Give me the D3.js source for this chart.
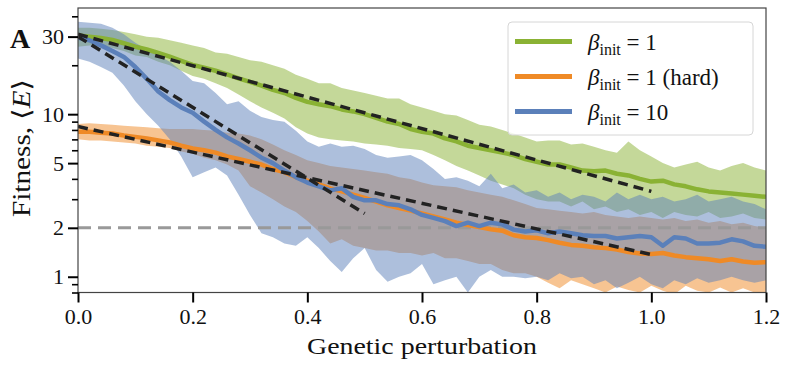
<!DOCTYPE html>
<html>
<head>
<meta charset="utf-8">
<script src="https://cdn.jsdelivr.net/npm/d3@7"></script>
<style>
  html, body { margin: 0; padding: 0; background: #fff; }
  svg text { font-family: "Liberation Serif", "DejaVu Serif", serif; fill: #111; }
</style>
</head>
<body>
<svg id="chart" width="789" height="368"></svg>
<script>
// x grid of the simulations (genetic perturbation, step 0.02)
const xStep = 0.02;
const xGrid = d3.range(61).map(i => +(i * xStep).toFixed(2));

// beta_init = 1
const greenMean = [30.5, 30.0, 29.4, 28.6, 27.3, 26.0, 25.0, 23.8, 22.6, 21.3,
  20.1, 19.3, 18.5, 17.6, 16.6, 15.8, 15.0, 14.1, 13.5, 12.6,
  11.9, 11.5, 11.2, 10.7, 10.4, 10.0, 9.5, 9.0, 8.7, 8.1,
  7.8, 7.6, 7.1, 6.8, 6.4, 6.2, 6.0, 5.8, 5.6, 5.3,
  5.1, 4.9, 4.9, 4.7, 4.5, 4.45, 4.5, 4.3, 4.2, 4.0,
  3.85, 3.9, 3.7, 3.6, 3.45, 3.35, 3.3, 3.25, 3.2, 3.15, 3.1];
const greenHi = [34, 34, 33.5, 33, 32, 31, 30, 29.5, 28.5, 27.5,
  26.5, 25.5, 24, 23.5, 22.5, 21.5, 21, 20, 19, 17.5,
  16.5, 15.5, 15.5, 14.5, 14, 13.5, 13, 12.5, 12.5, 11.5,
  11, 10.5, 10, 9.8, 9.2, 8.6, 8.4, 8.0, 7.6, 7.2,
  6.8, 6.9, 6.9, 6.5, 6.6, 6.3, 6.0, 5.8, 6.8, 6.0,
  5.5, 5.0, 4.7, 4.9, 5.1, 4.7, 4.5, 4.8, 5.0, 4.7, 4.5];
const greenLo = [26, 26.5, 26, 25.5, 24.5, 23, 22.5, 21, 20, 18.5,
  17.2, 16.5, 15.5, 14.5, 13.2, 12.0, 11.0, 10.2, 9.4, 8.3,
  7.6, 7.2, 7.0, 6.9, 6.8, 6.6, 6.5, 6.4, 6.2, 6.1,
  6.0, 5.6, 5.2, 4.8, 4.5, 4.2, 3.9, 3.7, 3.5, 3.2,
  3.0, 2.9, 2.9, 2.7, 2.9, 2.6, 2.7, 2.5, 2.6, 2.4,
  2.5, 2.3, 2.5, 2.4, 2.35, 2.5, 2.3, 2.35, 2.45, 2.3, 2.25];

// beta_init = 1 (hard)
const orangeMean = [7.8, 7.8, 7.7, 7.6, 7.4, 7.25, 7.1, 6.9, 6.7, 6.4,
  6.15, 6.0, 5.8, 5.5, 5.3, 5.1, 4.9, 4.6, 4.4, 4.1,
  3.9, 3.7, 3.5, 3.35, 3.2, 3.05, 2.9, 2.75, 2.65, 2.55,
  2.45, 2.35, 2.25, 2.15, 2.08, 2.02, 1.96, 1.92, 1.8, 1.75,
  1.73, 1.68, 1.62, 1.57, 1.55, 1.52, 1.5, 1.47, 1.42, 1.39,
  1.38, 1.4, 1.35, 1.32, 1.3, 1.28, 1.25, 1.28, 1.24, 1.22, 1.23];
const orangeHi = [8.7, 8.8, 8.7, 8.6, 8.5, 8.4, 8.3, 8.2, 8.1, 8.1,
  8.1, 8.0, 7.9, 7.7, 7.6, 7.4, 7.0, 6.5, 6.0, 5.6,
  5.2, 5.0, 4.8, 4.7, 4.6, 4.5, 4.4, 4.3, 4.1, 4.0,
  3.8, 3.65, 3.6, 3.55, 3.4, 3.3, 3.2, 3.1, 2.95, 2.8,
  2.65, 2.6, 2.55, 2.5, 2.45, 2.5, 2.4, 2.35, 2.3, 2.35,
  2.3, 2.25, 2.3, 2.2, 2.25, 2.15, 2.2, 2.1, 2.15, 2.05, 2.0];
const orangeLo = [7.0, 6.9, 6.9, 6.8, 6.7, 6.6, 6.4, 6.3, 6.2, 5.9,
  5.7, 5.4, 5.2, 4.9, 4.5, 3.6, 3.3, 3.0, 2.7, 2.5,
  2.2, 1.9, 1.6, 1.7, 1.55, 1.5, 1.45, 1.45, 1.4, 1.4,
  1.35, 1.4, 1.3, 1.3, 1.25, 1.2, 1.2, 1.1, 1.05, 1.05,
  1.0, 0.92, 0.85, 0.95, 0.9, 0.85, 0.8, 0.87, 0.83, 0.8,
  0.88, 0.82, 0.78, 0.88, 0.82, 0.8, 0.86, 0.8, 0.85, 0.8, 0.78];

// beta_init = 10
const blueMean = [29.5, 28.5, 26.5, 24.5, 22.5, 19.5, 16.5, 13.8, 12.2, 11.0,
  10.2, 9.0, 8.0, 7.2, 6.6, 6.0, 5.4, 5.0, 4.5, 4.1,
  3.8, 3.6, 3.4, 3.5, 3.1, 2.95, 2.95, 2.8, 2.75, 2.6,
  2.4, 2.3, 2.2, 2.05, 2.15, 2.05, 2.15, 2.1, 1.95, 1.9,
  1.93, 1.85, 1.9, 1.85, 1.8, 1.78, 1.78, 1.72, 1.75, 1.78,
  1.75, 1.55, 1.75, 1.72, 1.6, 1.6, 1.62, 1.7, 1.65, 1.55, 1.53];
const blueHi = [37, 36.5, 36, 34, 31, 27.5, 25, 23, 21, 18.5,
  16, 15.5, 13.5, 11.5, 12.0, 10.5, 9.6, 9.2, 9.0, 7.9,
  6.8, 6.3, 6.6, 6.3, 6.4, 6.1, 5.6, 5.4, 5.5, 5.6,
  5.2, 4.6, 4.0, 4.1, 3.9, 3.6, 4.3, 3.5, 3.7, 3.3,
  3.4, 3.1, 3.3, 3.0, 3.2, 3.1, 2.9, 3.3, 3.0, 3.2,
  3.0, 3.1, 2.9, 3.0, 3.2, 2.9, 3.0, 3.1, 2.9, 2.8, 2.6];
const blueLo = [22, 21, 19.5, 18, 15, 12, 10, 8.5, 7, 5.5,
  4.1, 4.4, 4.7, 4.2, 3.2, 2.4, 1.85, 1.75, 1.6, 1.55,
  1.75, 1.5, 1.25, 1.07, 1.3, 1.5, 1.1, 0.93, 1.0, 1.05,
  1.2, 0.9, 0.95, 1.0, 0.8, 1.0, 1.1, 1.0, 1.0, 0.98,
  1.0, 0.95, 1.05, 0.98, 1.0, 0.9, 0.95, 0.85, 0.92, 1.0,
  0.9, 0.85, 0.95, 0.9, 0.98, 0.92, 0.95, 1.0, 0.95, 0.92, 0.95];

// exponential fits (end points, straight on the log axis)
const fitGreenX = [0, 1.0], fitGreenY = [31, 3.35];
const fitBlueX = [0, 0.5], fitBlueY = [30, 2.45];
const fitOrangeX = [0, 1.0], fitOrangeY = [8.4, 1.37];
const refLevel = 2;

const xTicks = [0, 0.2, 0.4, 0.6, 0.8, 1.0, 1.2];
const yMajor = [1, 2, 5, 10, 30];
const yMinor = [0.8, 0.9, 3, 4, 6, 7, 8, 9, 20, 40];

const series = [
  { name: "1", extra: "", color: "#8ab234", mean: greenMean, lo: greenLo, hi: greenHi },
  { name: "1", extra: " (hard)", color: "#ef8a26", mean: orangeMean, lo: orangeLo, hi: orangeHi },
  { name: "10", extra: "", color: "#5b80ba", mean: blueMean, lo: blueLo, hi: blueHi }
];

const svg = d3.select("#chart");
const pLeft = 78, pRight = 766, pTop = 8, pBottom = 292.5;

const x = d3.scaleLinear().domain([0, 1.2]).range([pLeft, pRight]);
const y = d3.scaleLog().domain([0.8, 45]).range([pBottom, pTop]);

svg.append("defs").append("clipPath").attr("id", "plotClip")
  .append("rect").attr("x", pLeft).attr("y", pTop)
  .attr("width", pRight - pLeft).attr("height", pBottom - pTop);

const plot = svg.append("g").attr("clip-path", "url(#plotClip)");

// bands
const area = d3.area()
  .x((d, i) => x(xGrid[i]))
  .y0(d => y(d[0]))
  .y1(d => y(d[1]));
series.forEach(s => {
  plot.append("path")
    .datum(s.lo.map((v, i) => [v, s.hi[i]]))
    .attr("d", area)
    .attr("fill", s.color)
    .attr("fill-opacity", 0.5);
});

// reference level
plot.append("line")
  .attr("x1", x(0)).attr("x2", x(1.2))
  .attr("y1", y(refLevel)).attr("y2", y(refLevel))
  .attr("stroke", "#999").attr("stroke-width", 3)
  .attr("stroke-dasharray", "13,7");

// mean lines
const line = d3.line().x((d, i) => x(xGrid[i])).y(d => y(d));
series.forEach(s => {
  plot.append("path")
    .datum(s.mean)
    .attr("d", line)
    .attr("fill", "none")
    .attr("stroke", s.color)
    .attr("stroke-width", 4.5)
    .attr("stroke-linejoin", "round");
});

// fits
[[fitGreenX, fitGreenY], [fitBlueX, fitBlueY], [fitOrangeX, fitOrangeY]].forEach(([fx, fy]) => {
  plot.append("line")
    .attr("x1", x(fx[0])).attr("y1", y(fy[0]))
    .attr("x2", x(fx[1])).attr("y2", y(fy[1]))
    .attr("stroke", "#222").attr("stroke-width", 3.5)
    .attr("stroke-dasharray", "10,6");
});

// frame
svg.append("rect")
  .attr("x", pLeft).attr("y", pTop)
  .attr("width", pRight - pLeft).attr("height", pBottom - pTop)
  .attr("fill", "none").attr("stroke", "#444").attr("stroke-width", 1.2);

// x axis
const xAxis = svg.append("g")
  .attr("transform", `translate(0,${pBottom})`)
  .call(d3.axisBottom(x).tickValues(xTicks).tickFormat(d3.format(".1f")).tickSize(10).tickPadding(6));
xAxis.select(".domain").remove();
xAxis.selectAll(".tick line").attr("stroke", "#000").attr("stroke-width", 2);
xAxis.selectAll(".tick text").attr("font-size", 22).attr("font-family", "Liberation Serif");

// y axis
const yAxis = svg.append("g")
  .attr("transform", `translate(${pLeft},0)`)
  .call(d3.axisLeft(y).tickValues(yMajor).tickFormat(d3.format("d")).tickSize(10).tickPadding(4));
yAxis.select(".domain").remove();
yAxis.selectAll(".tick line").attr("stroke", "#000").attr("stroke-width", 2);
yAxis.selectAll(".tick text").attr("font-size", 22).attr("font-family", "Liberation Serif");

const yMinorAxis = svg.append("g")
  .attr("transform", `translate(${pLeft},0)`)
  .call(d3.axisLeft(y).tickValues(yMinor).tickFormat("").tickSize(6));
yMinorAxis.select(".domain").remove();
yMinorAxis.selectAll(".tick line").attr("stroke", "#000").attr("stroke-width", 1.6);

// axis labels
svg.append("text")
  .attr("x", (pLeft + pRight) / 2).attr("y", 354)
  .attr("text-anchor", "middle").attr("font-size", 24)
  .attr("textLength", 230).attr("lengthAdjust", "spacingAndGlyphs")
  .text("Genetic perturbation");

const yl = svg.append("text")
  .attr("transform", "translate(30,148) rotate(-90)")
  .attr("text-anchor", "middle").attr("font-size", 25)
  .attr("textLength", 138).attr("lengthAdjust", "spacingAndGlyphs");
yl.append("tspan").text("Fitness, ⟨");
yl.append("tspan").attr("font-style", "italic").text("E");
yl.append("tspan").text("⟩");

svg.append("text")
  .attr("x", 10).attr("y", 48)
  .attr("font-size", 28).attr("font-weight", "bold")
  .text("A");

// legend
const lg = svg.append("g");
lg.append("rect")
  .attr("x", 508).attr("y", 22).attr("width", 245).attr("height", 113)
  .attr("rx", 4).attr("fill", "#fff").attr("fill-opacity", 0.8)
  .attr("stroke", "#d6d6d6").attr("stroke-width", 1);
series.forEach((s, i) => {
  const cy = 41.5 + i * 35;
  lg.append("line")
    .attr("x1", 515).attr("x2", 572).attr("y1", cy).attr("y2", cy)
    .attr("stroke", s.color).attr("stroke-width", 5);
  const t = lg.append("text").attr("x", 588).attr("y", cy + 8).attr("font-size", 23);
  t.append("tspan").attr("font-style", "italic").text("β");
  t.append("tspan").attr("font-size", 16).attr("dy", 5).text("init");
  t.append("tspan").attr("dy", -5).text(" = " + s.name + s.extra);
});
</script>
</body>
</html>
